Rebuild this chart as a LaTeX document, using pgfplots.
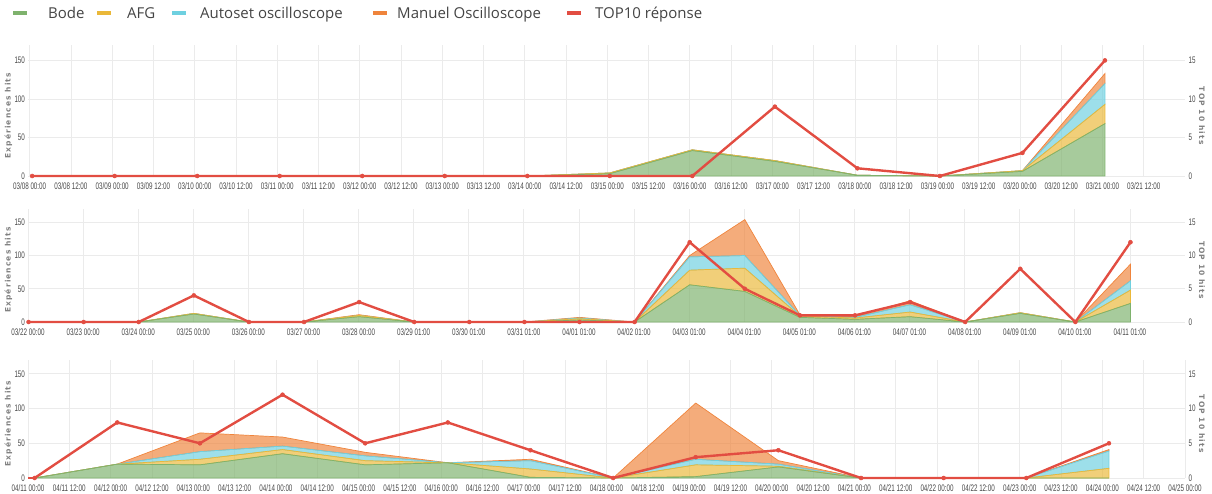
\documentclass[border=0pt]{standalone}
\usepackage{fontspec}
\setmainfont{Liberation Sans}
\newfontfamily\tickfont[FakeStretch=0.66]{Liberation Sans}
\newfontfamily\labfont[LetterSpace=15]{DejaVu Sans Bold}
\newfontfamily\legfont{Open Sans}
\usepackage{pgfplots}
\pgfplotsset{compat=1.18}
\usepackage{pgfplotstable}

\definecolor{cBode}{HTML}{7EB26D}
\definecolor{cAFG}{HTML}{EAB839}
\definecolor{cAuto}{HTML}{6ED0E0}
\definecolor{cMan}{HTML}{EF843C}
\definecolor{cTop}{HTML}{E24D42}
\definecolor{cGrid}{HTML}{EBEBEB}
\definecolor{cTick}{HTML}{484848}
\definecolor{cLab}{HTML}{808080}
\definecolor{cLeg}{HTML}{444444}

\pgfplotstableread{
x bode afg auto man top
0.03 0 0 0 0 0
1.03 0 0 0 0 0
2.03 0 0 0 0 0
3.03 0 0 0 0 0
4.03 0 0 0 0 0
5.03 0 0 0 0 0
6.03 0 0 0 0 0
7.03 3 1 0 0 0
8.03 33 1 0 0 0
9.03 19 1 0 0 9
10.03 1 0 0 0 1
11.03 0 0 0 0 0
12.03 6 1 0 0 3
13.03 68 25 27 13 15
}\tA

\pgfplotstableread{
x bode afg auto man top
0.01 0 0 0 0 0
1.01 0 0 0 0 0
2.01 0 0 0 0 0
3.01 12 1 0 0 4
4.01 0 0 0 0 0
5.01 0 0 0 0 0
6.01 8 2 0 1 3
7.01 0 0 0 0 0
8.01 0 0 0 0 0
9.01 0 0 0 0 0
10.01 3 2 1 1 0
11.01 0 0 0 0 0
12.01 56 22 20 2 12
13.01 46 35 19 54 5
14.01 7 2 1 1 1
15.01 4 2 1 1 1
16.01 8 7 11 6 3
17.01 0 0 0 0 0
18.01 13 1 0 0 8
19.01 0 0 0 0 0
20.01 28 20 14 25 12
}\tB

\pgfplotstableread{
x bode afg auto man top
0.08 0 0 0 0 0
1.08 20 0 0 0 8
2.08 19 8 11 27 5
3.08 35 6 5 13 12
4.08 19 6 7 5 5
5.08 22 0 0 0 8
6.08 1 12 12 2 4
7.08 0 0 0 0 0
8.08 2 17 8 81 3
9.08 16 1 3 5 4
10.08 0 0 0 0 0
11.08 0 0 0 0 0
12.08 0 0 0 0 0
13.08 0 14 25 2 5
}\tC

\pgfplotsset{
  base/.style={scale only axis, width=1157pt, anchor=south west,
    axis line style={draw=none}, major tick length=0pt,
    tick label style={font=\tickfont\fontsize{9.5}{10}\selectfont, text=cTick},
    /pgf/number format/assume math mode=true, clip=false},
  lpanel/.style={base, ymin=0, ymax=170, ytick={0,50,100,150},
    grid=major, major grid style={cGrid, line width=0.8pt},
    xticklabel style={yshift=-3.5pt},
    yticklabel style={xshift=0.5pt},
    stack plots=y,
    ylabel={Expériences hits},
    ylabel style={at={(axis description cs:-0.017,0.46)}, anchor=center,
      font=\labfont\fontsize{7.5}{8}\selectfont, text=cLab}},
  rpanel/.style={base, ymin=0, ymax=17, ytick={0,5,10,15},
    axis x line=none, axis y line*=right,
    ylabel={TOP 10 hits},
    ylabel style={at={(axis description cs:1.0147,0.46)}, anchor=center, rotate=180,
      font=\labfont\fontsize{7.5}{8}\selectfont, text=cLab}},
  ar/.style={draw=#1, line width=0.7pt, fill=#1, fill opacity=0.68, draw opacity=1},
  topline/.style={cTop, line width=2.4pt, mark=*, mark size=2pt, mark options={fill=cTop, draw=cTop, line width=0.5pt}},
}

\begin{document}
\begin{tikzpicture}
\useasboundingbox (0,0) rectangle (1212pt,493pt);

% legend
\foreach \c/\a/\t/\xt in {cBode/13/Bode/48, cAFG/97/AFG/127, cAuto/172/Autoset oscilloscope/200, cMan/373/Manuel Oscilloscope/397, cTop/567/TOP10 réponse/595}{
  \draw[\c, line width=3.6pt] (\a pt,479.7pt) -- ++(14pt,0);
  \node[anchor=base west, inner sep=0pt, text=cLeg, font=\legfont\fontsize{15}{15}\selectfont] at (\xt pt,474.5pt) {\t};
}

% ---------- panel 1
\begin{axis}[lpanel, at={(28pt,317pt)}, height=131pt, xmin=-0.02, xmax=14,
  xtick={0,0.5,...,13.5},
  xticklabels={03/08 00:00,03/08 12:00,03/09 00:00,03/09 12:00,03/10 00:00,03/10 12:00,03/11 00:00,03/11 12:00,03/12 00:00,03/12 12:00,03/13 00:00,03/13 12:00,03/14 00:00,03/14 12:00,03/15 00:00,03/15 12:00,03/16 00:00,03/16 12:00,03/17 00:00,03/17 12:00,03/18 00:00,03/18 12:00,03/19 00:00,03/19 12:00,03/20 00:00,03/20 12:00,03/21 00:00,03/21 12:00}]
\addplot[ar=cBode] table[x=x,y=bode]{\tA} \closedcycle;
\addplot[ar=cAFG] table[x=x,y=afg]{\tA} \closedcycle;
\addplot[ar=cAuto] table[x=x,y=auto]{\tA} \closedcycle;
\addplot[ar=cMan] table[x=x,y=man]{\tA} \closedcycle;
\end{axis}
\begin{axis}[rpanel, at={(28pt,317pt)}, height=131pt, xmin=-0.02, xmax=14]
\addplot[topline] table[x=x,y=top]{\tA};
\end{axis}

% ---------- panel 2
\begin{axis}[lpanel, at={(28pt,171pt)}, height=113pt, xmin=0, xmax=21,
  xtick={0,1,...,20},
  xticklabels={03/22 00:00,03/23 00:00,03/24 00:00,03/25 00:00,03/26 00:00,03/27 00:00,03/28 00:00,03/29 01:00,03/30 01:00,03/31 01:00,04/01 01:00,04/02 01:00,04/03 01:00,04/04 01:00,04/05 01:00,04/06 01:00,04/07 01:00,04/08 01:00,04/09 01:00,04/10 01:00,04/11 01:00}]
\addplot[ar=cBode] table[x=x,y=bode]{\tB} \closedcycle;
\addplot[ar=cAFG] table[x=x,y=afg]{\tB} \closedcycle;
\addplot[ar=cAuto] table[x=x,y=auto]{\tB} \closedcycle;
\addplot[ar=cMan] table[x=x,y=man]{\tB} \closedcycle;
\end{axis}
\begin{axis}[rpanel, at={(28pt,171pt)}, height=113pt, xmin=0, xmax=21]
\addplot[topline] table[x=x,y=top]{\tB};
\end{axis}

% ---------- panel 3
\begin{axis}[lpanel, at={(28pt,15pt)}, height=118pt, xmin=0, xmax=14,
  xtick={0,0.5,...,14},
  xticklabels={04/11 00:00,04/11 12:00,04/12 00:00,04/12 12:00,04/13 00:00,04/13 12:00,04/14 00:00,04/14 12:00,04/15 00:00,04/15 12:00,04/16 00:00,04/16 12:00,04/17 00:00,04/17 12:00,04/18 00:00,04/18 12:00,04/19 00:00,04/19 12:00,04/20 00:00,04/20 12:00,04/21 00:00,04/21 12:00,04/22 00:00,04/22 12:00,04/23 00:00,04/23 12:00,04/24 00:00,04/24 12:00,04/25 00:00}]
\addplot[ar=cBode] table[x=x,y=bode]{\tC} \closedcycle;
\addplot[ar=cAFG] table[x=x,y=afg]{\tC} \closedcycle;
\addplot[ar=cAuto] table[x=x,y=auto]{\tC} \closedcycle;
\addplot[ar=cMan] table[x=x,y=man]{\tC} \closedcycle;
\end{axis}
\begin{axis}[rpanel, at={(28pt,15pt)}, height=118pt, xmin=0, xmax=14]
\addplot[cTop, line width=2.4pt] coordinates {(0,0) (0.08,0)};
\addplot[topline] table[x=x,y=top]{\tC};
\end{axis}
\end{tikzpicture}
\end{document}
